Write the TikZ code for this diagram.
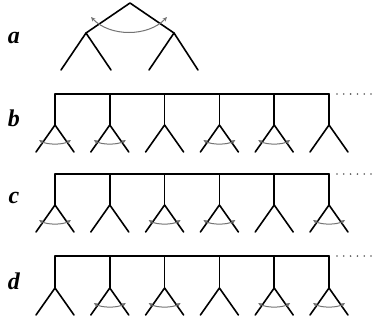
\documentclass[tikz,border=0pt]{standalone}
\usepackage{fontspec}
\setmainfont{Liberation Serif}
\usetikzlibrary{arrows.meta}

\tikzset{
  branch/.style={line width=1.6pt, line cap=round, line join=round},
  swap/.style={draw=black!55, line width=1pt, {Stealth[length=4.5pt,width=4pt]}-{Stealth[length=4.5pt,width=4pt]}},
  rowlabel/.style={font=\fontsize{24}{24}\selectfont\bfseries\itshape, anchor=center}
}

\begin{document}
\begin{tikzpicture}[x=1pt,y=-1pt]
\useasboundingbox (0,0) rectangle (380,322);

% a: single exchange at the root
\node[rowlabel] (la) at (14,38) {a};
\coordinate (root) at (130,3);
\coordinate (nl) at (86,33);
\coordinate (nr) at (174,33);
\coordinate (nll) at (61,70);
\coordinate (nlr) at (111,70);
\coordinate (nrl) at (149,70);
\coordinate (nrr) at (198,70);
\draw[branch] (nl) -- (root) -- (nr);
\draw[branch] (nll) -- (nl) -- (nlr);
\draw[branch] (nrl) -- (nr) -- (nrr);
\coordinate (aswl) at (91,17);
\coordinate (aswr) at (167,17);
\draw[swap] (aswl) .. controls (110,37) and (148,37) .. (aswr);

% b, c, d: comb of six forks
\foreach \r/\yb/\yf/\arcs in {b/94/125/{1,2,4,5}, c/174/205/{1,3,4,6}, d/256/288/{2,3,5,6}}{
  \node[rowlabel] (l\r) at (14,\yf-7) {\r};
  \foreach \i in {1,...,6}{
    \coordinate (\r-top-\i) at (55+54.8*\i-54.8,\yb);
    \coordinate (\r-fork-\i) at (55+54.8*\i-54.8,\yf);
    \coordinate (\r-leafl-\i) at (36+54.8*\i-54.8,\yf+27);
    \coordinate (\r-leafr-\i) at (74+54.8*\i-54.8,\yf+27);
    \draw[branch] (\r-top-\i) -- (\r-fork-\i);
    \draw[branch] (\r-leafl-\i) -- (\r-fork-\i) -- (\r-leafr-\i);
  }
  \draw[branch] (\r-top-1) -- (\r-top-6);
  \foreach \k in \arcs{
    \coordinate (\r-arcl-\k) at (39+54.8*\k-54.8,\yf+15);
    \coordinate (\r-arcr-\k) at (71+54.8*\k-54.8,\yf+15);
    \draw[swap] (\r-arcl-\k) .. controls +(8,5) and +(-8,5) .. (\r-arcr-\k);
  }
  \foreach \j in {0,...,5}{
    \fill[black!65] (337+6.8*\j,\yb) circle (0.9);
  }
}

\end{tikzpicture}
\end{document}
